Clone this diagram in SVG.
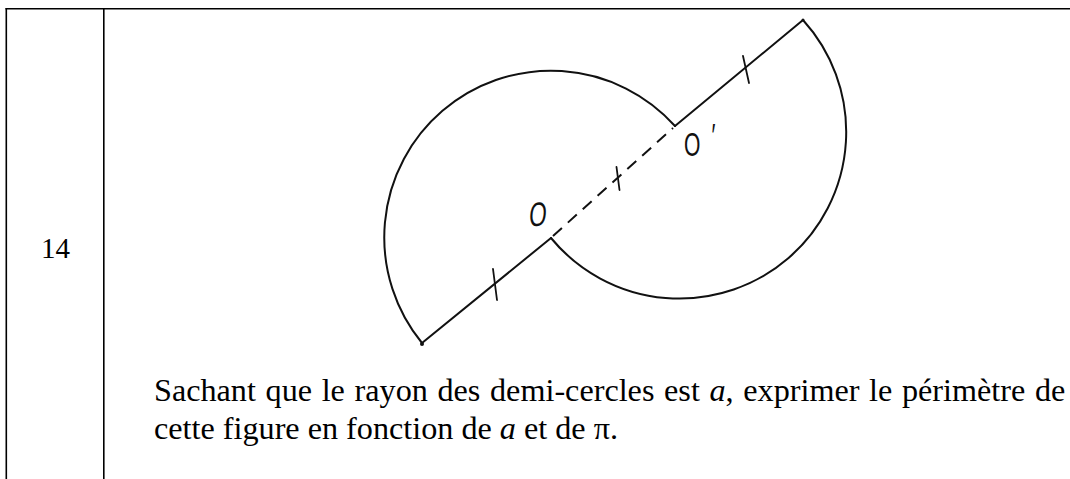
<svg xmlns="http://www.w3.org/2000/svg" width="1070" height="479" viewBox="0 0 1070 479">
<style>
.grid{stroke:#000;stroke-width:1.6;fill:none}
.fig{stroke:#111;stroke-width:2;fill:none;stroke-linecap:round;stroke-linejoin:round}
.dash{stroke-dasharray:12 8;stroke-linecap:butt}
.tick{stroke:#111;stroke-width:1.8;stroke-linecap:round}
.txt{font-family:"Liberation Serif","Times New Roman",serif;font-size:32.2px;fill:#000}
.num{font-family:"Liberation Serif","Times New Roman",serif;font-size:29px;fill:#000}
.hand{font-family:"Liberation Sans",Arial,sans-serif;font-size:34px;fill:#111}
</style>
<rect width="1070" height="479" fill="#fff"/>
<g id="table">
<line class="grid" x1="5.5" y1="8.7" x2="1070" y2="8.7"/>
<line class="grid" x1="6.3" y1="8" x2="6.3" y2="479"/>
<line class="grid" x1="103.8" y1="8" x2="103.8" y2="479"/>
</g>
<g id="number">
<text class="num" x="41" y="257.5">14</text>
</g>
<g id="figure">
<path class="fig" d="M422,343 A166.7,166.7 0 0 1 675,126"/>
<path class="fig" d="M803,20 A166.65,166.65 0 1 1 551,238"/>
<path class="fig" d="M422,343 L551,238"/>
<path class="fig" d="M675,126 L803,20"/>
<path class="fig dash" d="M553,236 L673,128"/>
<line class="tick" x1="493" y1="269" x2="497" y2="300"/>
<line class="tick" x1="743" y1="56" x2="749" y2="83"/>
<line class="tick" x1="616.5" y1="167" x2="619.5" y2="190"/>
<circle cx="422" cy="344" r="2" fill="#111"/>
<circle cx="803" cy="20" r="1.5" fill="#111"/>
<text class="hand" transform="translate(537,226) scale(0.66,1) skewX(-8)" text-anchor="middle">O</text>
<text class="hand" transform="translate(684,155.5) scale(0.62,1)">O<tspan dx="18" dy="-9">′</tspan></text>
</g>
<g id="question">
<text class="txt" x="154" y="401" word-spacing="1.6">Sachant que le rayon des demi-cercles est <tspan font-style="italic">a</tspan>, exprimer le périmètre de</text>
<text class="txt" x="154" y="439">cette figure en fonction de <tspan font-style="italic">a</tspan> et de π.</text>
</g>
</svg>
